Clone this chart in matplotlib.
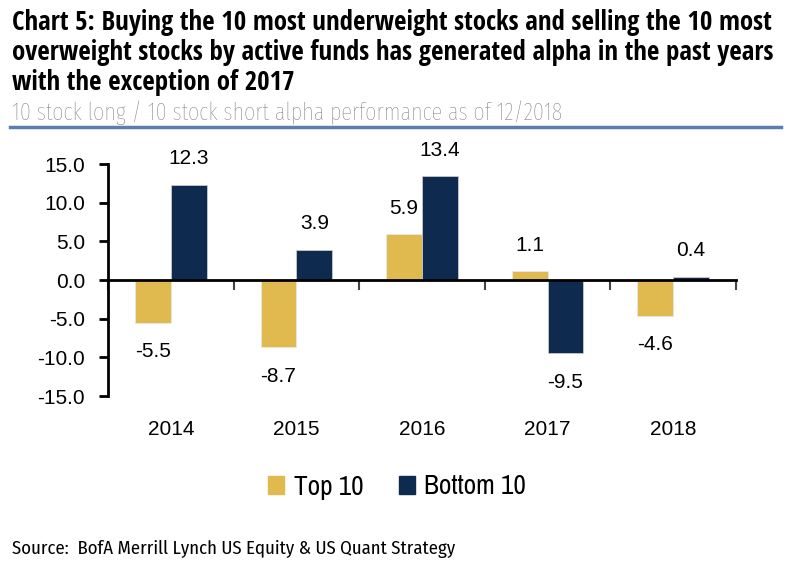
import matplotlib.pyplot as plt
import numpy as np

years = ["2014", "2015", "2016", "2017", "2018"]
top10 = [-5.5, -8.7, 5.9, 1.1, -4.6]
bottom10 = [12.3, 3.9, 13.4, -9.5, 0.4]

gold = "#E0B94F"
navy = "#0E2A4F"
W, H = 794, 575

fig = plt.figure(figsize=(7.94, 5.75), dpi=100)
ax = fig.add_axes([108/W, 1-396/H, (736-108)/W, (396-164)/H])


def fy(py):
    return 1 - py / H


def fit(t, target_px):
    # scale font so the text spans target_px pixels
    r = fig.canvas.get_renderer()
    w = t.get_window_extent(r).width
    t.set_fontsize(t.get_fontsize() * target_px / w)
    return t.get_fontsize()


x = np.arange(len(years))
w = 0.285
b1 = ax.bar(x - w/2, top10, w, color=gold, edgecolor="#e8e8e8", linewidth=0.6)
b2 = ax.bar(x + w/2, bottom10, w, color=navy, edgecolor="#c8c8c8", linewidth=0.6)

for bars, vals in [(b1, top10), (b2, bottom10)]:
    for r, v in zip(bars, vals):
        xc = r.get_x() + r.get_width()/2
        off = 12 if v >= 0 else -14
        ax.annotate(f"{v:.1f}", (xc, v), xytext=(0, off), textcoords="offset points",
                    ha="center", va="bottom" if v >= 0 else "top",
                    fontsize=15, family="Liberation Sans")

ax.set_xlim(-0.5, len(years) - 0.5)
ax.set_ylim(-15, 15)
yt = np.arange(-15, 16, 5)
ax.set_yticks(yt)
ax.set_yticklabels([f"{t:.1f}" for t in yt], fontsize=15, family="Liberation Sans")
ax.tick_params(axis="y", length=6.5, width=2, direction="out", pad=10)

for s in ["top", "right"]:
    ax.spines[s].set_visible(False)
ax.spines["left"].set_linewidth(2)
ax.spines["bottom"].set_position(("data", 0))
ax.spines["bottom"].set_linewidth(2)

ax.set_xticks(np.arange(len(years) + 1) - 0.5)
ax.set_xticklabels([])
ax.tick_params(axis="x", length=7, width=1.5, color="#444444", direction="out")
for i, yr in enumerate(years):
    ax.text(i, -19.3, yr, ha="center", va="center", fontsize=15, family="Liberation Sans")

# legend
probe = fig.text(0, 0, "Bottom 10", family="Archivo Narrow", fontsize=15)
leg_size = fit(probe, 102)
probe.remove()
handles = [plt.Rectangle((0, 0), 1, 1, color=gold), plt.Rectangle((0, 0), 1, 1, color=navy)]
fig.legend(handles, ["Top 10", "Bottom 10"], loc="center", bbox_to_anchor=(0.5, fy(487)),
           ncol=2, frameon=False, prop={"family": "Archivo Narrow", "size": leg_size},
           handlelength=0.6, handleheight=0.6, handletextpad=0.35, columnspacing=1.3)

# titles
lines = ["Chart 5: Buying the 10 most underweight stocks and selling the 10 most",
         "overweight stocks by active funds has generated alpha in the past years",
         "with the exception of 2017"]
ys = [22, 52, 83]
tt = [fig.text(12/W, fy(y), s, ha="left", va="center", fontsize=16, fontweight="bold",
               family="Open Sans Condensed", color="#000000") for s, y in zip(lines, ys)]
size = fit(tt[0], 760)
for t in tt[1:]:
    t.set_fontsize(size)

sub = fig.text(12/W, fy(113), "10 stock long / 10 stock short alpha performance as of 12/2018",
               ha="left", va="center", fontsize=14, fontweight="light",
               family="Fira Sans Extra Condensed", color="#767676")
fit(sub, 548)
fig.add_artist(plt.Line2D([10/W, 781/W], [fy(127), fy(127)], color="#5B7DB1", linewidth=2.5))
src = fig.text(12/W, fy(549), "Source:  BofA Merrill Lynch US Equity & US Quant Strategy",
               ha="left", va="center", fontsize=12, family="Fira Sans Condensed", color="#000000")
fit(src, 443)

fig.savefig("out.png", dpi=100)
